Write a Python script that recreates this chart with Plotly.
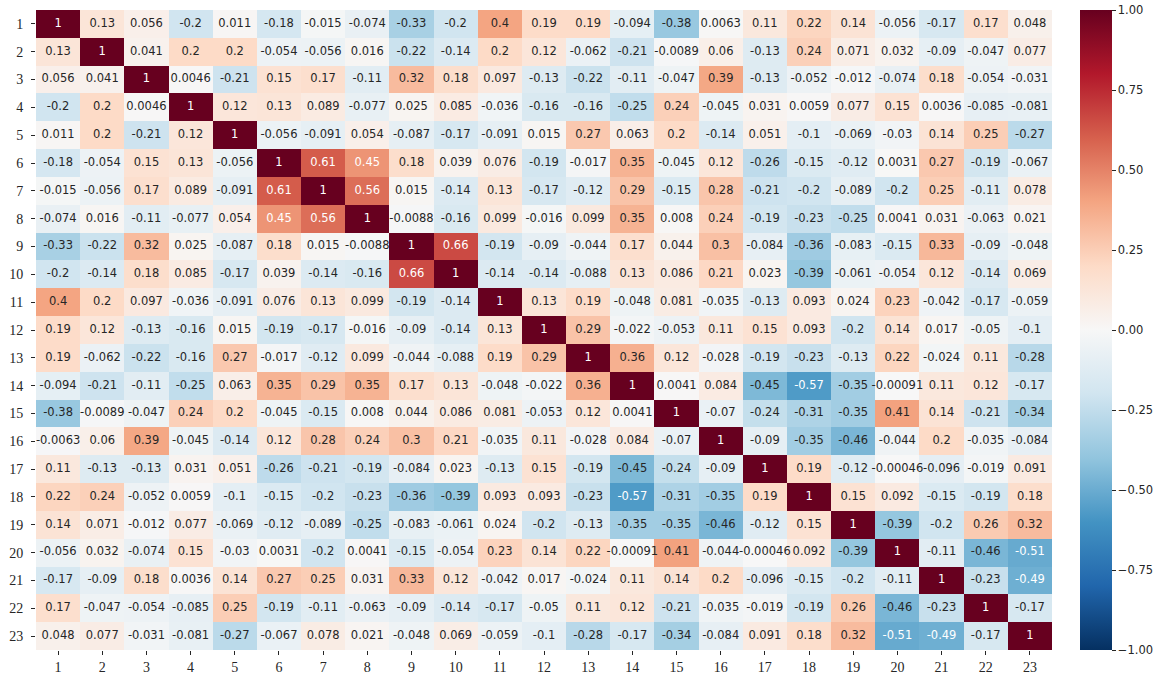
import plotly.graph_objects as go

labels = [str(i) for i in range(1, 24)]

r01 = [1, 0.13, 0.056, -0.2, 0.011, -0.18, -0.015, -0.074, -0.33, -0.2, 0.4, 0.19, 0.19, -0.094, -0.38, 0.0063, 0.11, 0.22, 0.14, -0.056, -0.17, 0.17, 0.048]
r02 = [0.13, 1, 0.041, 0.2, 0.2, -0.054, -0.056, 0.016, -0.22, -0.14, 0.2, 0.12, -0.062, -0.21, -0.0089, 0.06, -0.13, 0.24, 0.071, 0.032, -0.09, -0.047, 0.077]
r03 = [0.056, 0.041, 1, 0.0046, -0.21, 0.15, 0.17, -0.11, 0.32, 0.18, 0.097, -0.13, -0.22, -0.11, -0.047, 0.39, -0.13, -0.052, -0.012, -0.074, 0.18, -0.054, -0.031]
r04 = [-0.2, 0.2, 0.0046, 1, 0.12, 0.13, 0.089, -0.077, 0.025, 0.085, -0.036, -0.16, -0.16, -0.25, 0.24, -0.045, 0.031, 0.0059, 0.077, 0.15, 0.0036, -0.085, -0.081]
r05 = [0.011, 0.2, -0.21, 0.12, 1, -0.056, -0.091, 0.054, -0.087, -0.17, -0.091, 0.015, 0.27, 0.063, 0.2, -0.14, 0.051, -0.1, -0.069, -0.03, 0.14, 0.25, -0.27]
r06 = [-0.18, -0.054, 0.15, 0.13, -0.056, 1, 0.61, 0.45, 0.18, 0.039, 0.076, -0.19, -0.017, 0.35, -0.045, 0.12, -0.26, -0.15, -0.12, 0.0031, 0.27, -0.19, -0.067]
r07 = [-0.015, -0.056, 0.17, 0.089, -0.091, 0.61, 1, 0.56, 0.015, -0.14, 0.13, -0.17, -0.12, 0.29, -0.15, 0.28, -0.21, -0.2, -0.089, -0.2, 0.25, -0.11, 0.078]
r08 = [-0.074, 0.016, -0.11, -0.077, 0.054, 0.45, 0.56, 1, -0.0088, -0.16, 0.099, -0.016, 0.099, 0.35, 0.008, 0.24, -0.19, -0.23, -0.25, 0.0041, 0.031, -0.063, 0.021]
r09 = [-0.33, -0.22, 0.32, 0.025, -0.087, 0.18, 0.015, -0.0088, 1, 0.66, -0.19, -0.09, -0.044, 0.17, 0.044, 0.3, -0.084, -0.36, -0.083, -0.15, 0.33, -0.09, -0.048]
r10 = [-0.2, -0.14, 0.18, 0.085, -0.17, 0.039, -0.14, -0.16, 0.66, 1, -0.14, -0.14, -0.088, 0.13, 0.086, 0.21, 0.023, -0.39, -0.061, -0.054, 0.12, -0.14, 0.069]
r11 = [0.4, 0.2, 0.097, -0.036, -0.091, 0.076, 0.13, 0.099, -0.19, -0.14, 1, 0.13, 0.19, -0.048, 0.081, -0.035, -0.13, 0.093, 0.024, 0.23, -0.042, -0.17, -0.059]
r12 = [0.19, 0.12, -0.13, -0.16, 0.015, -0.19, -0.17, -0.016, -0.09, -0.14, 0.13, 1, 0.29, -0.022, -0.053, 0.11, 0.15, 0.093, -0.2, 0.14, 0.017, -0.05, -0.1]
r13 = [0.19, -0.062, -0.22, -0.16, 0.27, -0.017, -0.12, 0.099, -0.044, -0.088, 0.19, 0.29, 1, 0.36, 0.12, -0.028, -0.19, -0.23, -0.13, 0.22, -0.024, 0.11, -0.28]
r14 = [-0.094, -0.21, -0.11, -0.25, 0.063, 0.35, 0.29, 0.35, 0.17, 0.13, -0.048, -0.022, 0.36, 1, 0.0041, 0.084, -0.45, -0.57, -0.35, -0.00091, 0.11, 0.12, -0.17]
r15 = [-0.38, -0.0089, -0.047, 0.24, 0.2, -0.045, -0.15, 0.008, 0.044, 0.086, 0.081, -0.053, 0.12, 0.0041, 1, -0.07, -0.24, -0.31, -0.35, 0.41, 0.14, -0.21, -0.34]
r16 = [-0.0063, 0.06, 0.39, -0.045, -0.14, 0.12, 0.28, 0.24, 0.3, 0.21, -0.035, 0.11, -0.028, 0.084, -0.07, 1, -0.09, -0.35, -0.46, -0.044, 0.2, -0.035, -0.084]
r17 = [0.11, -0.13, -0.13, 0.031, 0.051, -0.26, -0.21, -0.19, -0.084, 0.023, -0.13, 0.15, -0.19, -0.45, -0.24, -0.09, 1, 0.19, -0.12, -0.00046, -0.096, -0.019, 0.091]
r18 = [0.22, 0.24, -0.052, 0.0059, -0.1, -0.15, -0.2, -0.23, -0.36, -0.39, 0.093, 0.093, -0.23, -0.57, -0.31, -0.35, 0.19, 1, 0.15, 0.092, -0.15, -0.19, 0.18]
r19 = [0.14, 0.071, -0.012, 0.077, -0.069, -0.12, -0.089, -0.25, -0.083, -0.061, 0.024, -0.2, -0.13, -0.35, -0.35, -0.46, -0.12, 0.15, 1, -0.39, -0.2, 0.26, 0.32]
r20 = [-0.056, 0.032, -0.074, 0.15, -0.03, 0.0031, -0.2, 0.0041, -0.15, -0.054, 0.23, 0.14, 0.22, -0.00091, 0.41, -0.044, -0.00046, 0.092, -0.39, 1, -0.11, -0.46, -0.51]
r21 = [-0.17, -0.09, 0.18, 0.0036, 0.14, 0.27, 0.25, 0.031, 0.33, 0.12, -0.042, 0.017, -0.024, 0.11, 0.14, 0.2, -0.096, -0.15, -0.2, -0.11, 1, -0.23, -0.49]
r22 = [0.17, -0.047, -0.054, -0.085, 0.25, -0.19, -0.11, -0.063, -0.09, -0.14, -0.17, -0.05, 0.11, 0.12, -0.21, -0.035, -0.019, -0.19, 0.26, -0.46, -0.23, 1, -0.17]
r23 = [0.048, 0.077, -0.031, -0.081, -0.27, -0.067, 0.078, 0.021, -0.048, 0.069, -0.059, -0.1, -0.28, -0.17, -0.34, -0.084, 0.091, 0.18, 0.32, -0.51, -0.49, -0.17, 1]

corr = [r01, r02, r03, r04, r05, r06, r07, r08, r09, r10, r11, r12, r13, r14, r15,
        r16, r17, r18, r19, r20, r21, r22, r23]

cbar_ticks = [-1.0, -0.75, -0.5, -0.25, 0.0, 0.25, 0.5, 0.75, 1.0]

# matplotlib RdBu_r stops
hexes = ["#053061", "#2166ac", "#4393c3", "#92c5de", "#d1e5f0", "#f7f7f7",
         "#fddbc7", "#f4a582", "#d6604d", "#b2182b", "#67001f"]
rgbs = [tuple(int(h[i:i + 2], 16) for i in (1, 3, 5)) for h in hexes]
colorscale = [[i / 10, f"rgb{c}"] for i, c in enumerate(rgbs)]


def cmap(v):
    t = (v + 1) / 2 * 10
    i = min(int(t), 9)
    f = t - i
    a, b = rgbs[i], rgbs[i + 1]
    return [(a[k] + (b[k] - a[k]) * f) / 255 for k in range(3)]


def lum(rgb):
    lin = [c / 12.92 if c <= 0.03928 else ((c + 0.055) / 1.055) ** 2.4 for c in rgb]
    return 0.2126 * lin[0] + 0.7152 * lin[1] + 0.0722 * lin[2]


tx, ty, tt, tc = [], [], [], []
for i, row in enumerate(corr):
    for j, v in enumerate(row):
        tx.append(labels[j])
        ty.append(labels[i])
        tt.append(f"{v:.2g}")
        tc.append("#262626" if lum(cmap(v)) > 0.408 else "white")

W, H = 1163, 680
L, R, T, B = 36, 111, 10, 30
plot_w = W - L - R

fig = go.Figure()
fig.add_trace(go.Heatmap(
    z=corr, x=labels, y=labels, zmin=-1, zmax=1, colorscale=colorscale,
    xgap=0, ygap=0, hoverinfo="skip",
    colorbar=dict(
        x=(1080 - L) / plot_w, xanchor="left", y=0.5, yanchor="middle",
        len=1.0, lenmode="fraction", thickness=32, thicknessmode="pixels",
        outlinewidth=0, tickvals=cbar_ticks,
        ticktext=[f"{t:.2f}".replace("-", "\u2212") for t in cbar_ticks],
        ticks="outside", ticklen=4, tickwidth=1, tickcolor="#262626",
        tickfont=dict(family="DejaVu Sans", size=11.5, color="#262626"),
        ypad=0, xpad=0,
    ),
))
fig.add_trace(go.Scatter(
    x=tx, y=ty, mode="text", text=tt,
    textfont=dict(family="DejaVu Sans", size=11.5, color=tc),
    hoverinfo="skip", showlegend=False,
))

fig.update_layout(
    width=W, height=H,
    margin=dict(l=L, r=R, t=T, b=B, autoexpand=False),
    plot_bgcolor="white", paper_bgcolor="white",
    showlegend=False,
)
fig.update_xaxes(
    type="category", showgrid=False, zeroline=False, showline=False,
    ticks="outside", ticklen=4, tickcolor="#262626", automargin=False,
    tickfont=dict(family="Liberation Serif", size=14, color="#262626"),
    range=[-0.5, 22.5],
)
fig.update_yaxes(
    type="category", showgrid=False, zeroline=False, showline=False,
    ticks="outside", ticklen=4, tickcolor="#262626", automargin=False,
    tickfont=dict(family="Liberation Serif", size=14, color="#262626"),
    range=[22.5, -0.5], ticklabelstandoff=5,
)

# remove the default 8px page margin so the figure fills the window exactly
fig.write_html(
    "out.html",
    config={"displayModeBar": False},
    post_script="document.body.style.margin='0';document.body.style.overflow='hidden';",
)
